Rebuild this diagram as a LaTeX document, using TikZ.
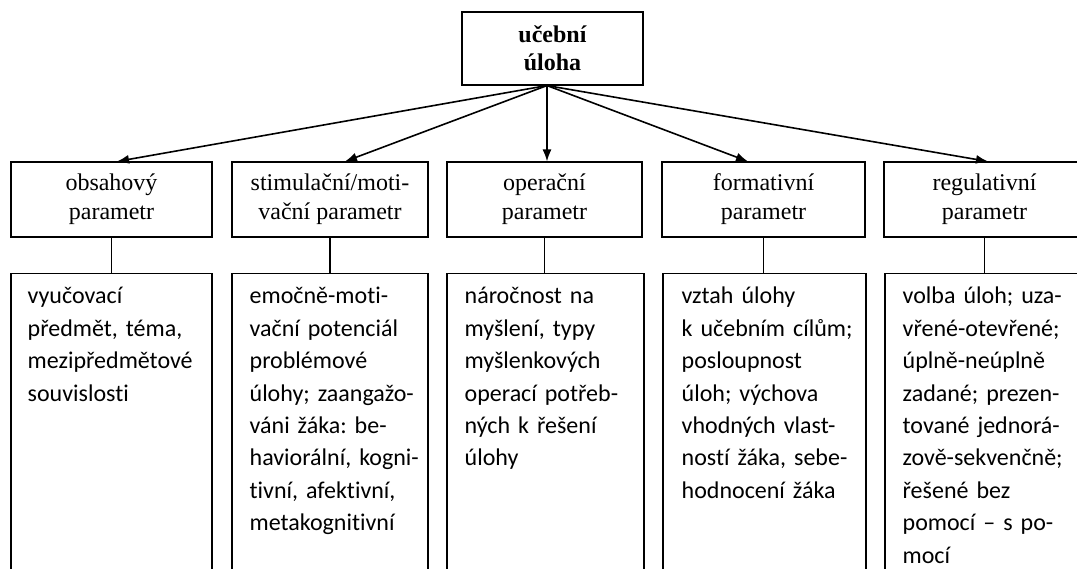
\documentclass[tikz,border=0pt]{standalone}
\usepackage{fontspec}
\setmainfont{Liberation Serif}
\newfontfamily\calibri[Ligatures=NoCommon]{Carlito}
\usetikzlibrary{arrows.meta}

\tikzset{
  >={Latex[length=12pt,width=9pt]},
  param/.style={draw, line width=1.1pt, minimum height=75pt, inner sep=0pt, align=center, font=\fontsize{24}{29}\selectfont},
  detail/.style={draw, line width=1.1pt, anchor=north, minimum height=330pt, inner sep=0pt},
  detailtext/.style={anchor=north west, inner sep=0pt, text width=180pt, align=left, font=\calibri\fontsize{24}{32.4}\selectfont\frenchspacing},
  branch/.style={->, line width=1.6pt},
}

\begin{document}
\begin{tikzpicture}[x=1pt, y=-1pt]
    \useasboundingbox (0,0) rectangle (1077,568);
    % top box
    \node[draw, line width=1.1pt, minimum width=181pt, minimum height=73pt, align=center, font=\bfseries\fontsize{24}{28}\selectfont] (top) at (552.5,48.5) {učební\\úloha};
    \coordinate (hub) at ([xshift=-5.5pt]top.south);
    % parameters
    \node[param, minimum width=201pt] (obsah) at (111.5,199.5) {obsahový\\parametr};
    \node[param, minimum width=196pt] (stim) at (330,199.5) {stimulační/moti-\\vační parametr};
    \node[param, minimum width=195pt] (oper) at (544.5,199.5) {operační\\parametr};
    \node[param, minimum width=203pt] (form) at (763.5,199.5) {formativní\\parametr};
    \node[param, minimum width=201pt] (reg) at (984.5,199.5) {regulativní\\parametr};
    \draw[branch] (hub) -- ([xshift=5.5pt]obsah.north);
    \draw[branch] (hub) -- ([xshift=15pt]stim.north);
    \draw[branch] (hub) -- ([xshift=2.5pt]oper.north);
    \draw[branch] (hub) -- ([xshift=-15.5pt]form.north);
    \draw[branch] (hub) -- ([xshift=3.5pt]reg.north);
    % detail boxes
    \node[detail, minimum width=201pt] (dobsah) at (111.5,273) {};
    \node[detail, minimum width=196pt] (dstim) at (330,273) {};
    \node[detail, minimum width=197pt] (doper) at (545.5,273) {};
    \node[detail, minimum width=203pt] (dform) at (764.5,273) {};
    \node[detail, minimum width=201pt] (dreg) at (985.5,273) {};
    \foreach \a/\b in {obsah/dobsah, stim/dstim, oper/doper, form/dform, reg/dreg}
        \draw[line width=1.1pt] (\a.south) -- (\a.south |- \b.north);
    \node[detailtext] (tobsah) at ([xshift=17pt,yshift=-8pt]dobsah.north west) {\strut vyučovací\\předmět, téma,\\mezipředmětové\\souvislosti};
    \node[detailtext] (tstim) at ([xshift=18pt,yshift=-8pt]dstim.north west) {\strut emočně-moti-\\vační potenciál\\problémové\\úlohy; zaangažo-\\váni žáka: be-\\haviorální, kogni-\\tivní, afektivní,\\metakognitivní};
    \node[detailtext] (toper) at ([xshift=18pt,yshift=-8pt]doper.north west) {\strut náročnost na\\myšlení, typy\\myšlenkových\\operací potřeb-\\ných k řešení\\úlohy};
    \node[detailtext] (tform) at ([xshift=19pt,yshift=-8pt]dform.north west) {\strut vztah úlohy\\k učebním cílům;\\posloupnost\\úloh; výchova\\vhodných vlast-\\ností žáka, sebe-\\hodnocení žáka};
    \node[detailtext] (treg) at ([xshift=18pt,yshift=-8pt]dreg.north west) {\strut volba úloh; uza-\\vřené-otevřené;\\úplně-neúplně\\zadané; prezen-\\tované jednorá-\\zově-sekvenčně;\\řešené bez\\pomocí – s po-\\mocí};
\end{tikzpicture}
\end{document}
